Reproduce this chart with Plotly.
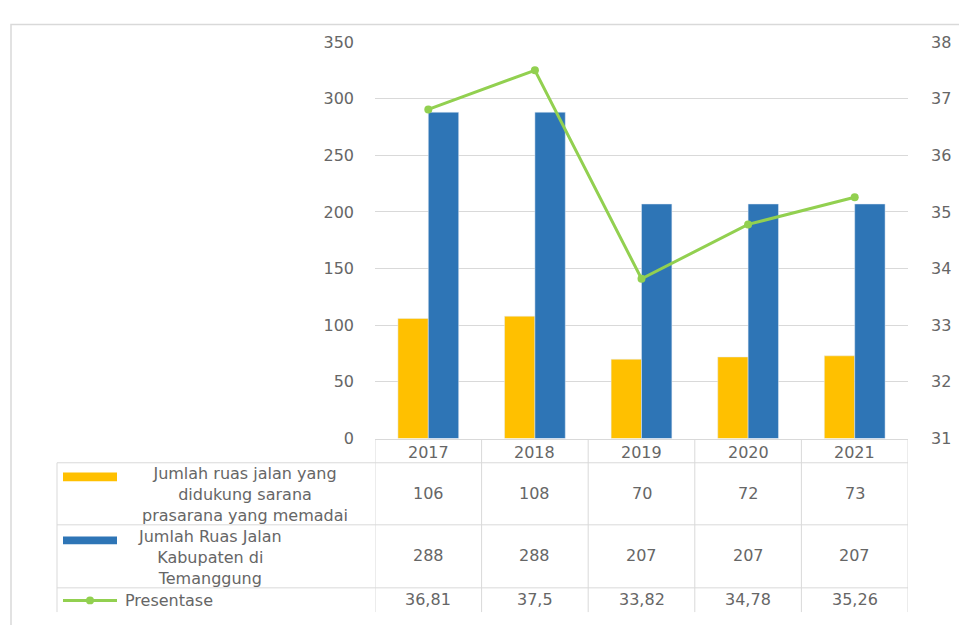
import plotly.graph_objects as go

# ---------------- data ----------------
years = ["2017", "2018", "2019", "2020", "2021"]
ruas_didukung = [106, 108, 70, 72, 73]
ruas_kabupaten = [288, 288, 207, 207, 207]
presentase = [36.81, 37.5, 33.82, 34.78, 35.26]
series_names = [
    "Jumlah ruas jalan yang<br>didukung sarana<br>prasarana yang memadai",
    "Jumlah Ruas Jalan<br>Kabupaten di<br>Temanggung",
    "Presentase",
]
left_ticks = [0, 50, 100, 150, 200, 250, 300, 350]
right_ticks = [31, 32, 33, 34, 35, 36, 37, 38]

# ---------------- style ----------------
W, H = 959, 625
YELLOW = "#FFC000"
BLUE = "#2E75B6"
GREEN = "#92D050"
GRID = "#D9D9D9"
TXT = "#666666"
FONT = "DejaVu Sans"
FS = 16


def px(x):
    return x / W


def py(y):
    return 1 - y / H


def fmt(v):
    s = f"{v:.2f}".rstrip("0").rstrip(".")
    return s.replace(".", ",")


x_left, x_right = 375, 908
y_top, y_bottom = 34, 443

fig = go.Figure()
fig.add_trace(go.Bar(x=years, y=ruas_didukung, marker_color=YELLOW,
                     name="didukung", showlegend=False))
fig.add_trace(go.Bar(x=years, y=ruas_kabupaten, marker_color=BLUE,
                     name="kabupaten", showlegend=False))
fig.add_trace(go.Scatter(x=years, y=presentase, yaxis="y2", mode="lines+markers",
                         line=dict(color=GREEN, width=3),
                         marker=dict(color=GREEN, size=8),
                         name="Presentase", showlegend=False))

shapes = []
annotations = []

# chart frame
shapes.append(dict(type="rect", xref="paper", yref="paper",
                   x0=px(11), x1=px(975), y0=py(16), y1=py(640),
                   line=dict(color=GRID, width=1.5), layer="below"))

# table rows (pixel boundaries)
row_lines = [468, 532, 597]
table_bottom = 622
table_left = 57
for yy in row_lines:
    shapes.append(dict(type="line", xref="paper", yref="paper",
                       x0=px(table_left), x1=px(x_right), y0=py(yy), y1=py(yy),
                       line=dict(color=GRID, width=1)))
shapes.append(dict(type="line", xref="paper", yref="paper",
                   x0=px(table_left), x1=px(table_left), y0=py(row_lines[0]), y1=py(table_bottom),
                   line=dict(color=GRID, width=1)))
# vertical column lines at category boundaries
for i in range(len(years) + 1):
    shapes.append(dict(type="line", xref="x", yref="paper",
                       x0=i - 0.5, x1=i - 0.5, y0=py(444), y1=py(table_bottom),
                       line=dict(color=GRID, width=1)))

# table values (x given as category index)
row_centers = [500, 564, 609]
row_values = [
    [str(v) for v in ruas_didukung],
    [str(v) for v in ruas_kabupaten],
    [fmt(v) for v in presentase],
]
for rc, vals in zip(row_centers, row_values):
    for i, v in enumerate(vals):
        annotations.append(dict(x=i, xref="x", y=py(rc), yref="paper",
                                text=v, showarrow=False,
                                font=dict(family=FONT, size=FS, color=TXT),
                                xanchor="center", yanchor="middle"))
# year header
for i, yr in enumerate(years):
    annotations.append(dict(x=i, xref="x", y=py(457), yref="paper",
                            text=yr, showarrow=False,
                            font=dict(family=FONT, size=FS, color=TXT),
                            xanchor="center", yanchor="middle"))

# legend keys inside table
shapes.append(dict(type="rect", xref="paper", yref="paper",
                   x0=px(63), x1=px(117), y0=py(478), y1=py(487),
                   fillcolor=YELLOW, line=dict(width=0)))
shapes.append(dict(type="rect", xref="paper", yref="paper",
                   x0=px(63), x1=px(117), y0=py(544), y1=py(552),
                   fillcolor=BLUE, line=dict(width=0)))
shapes.append(dict(type="line", xref="paper", yref="paper",
                   x0=px(63), x1=px(117), y0=py(610), y1=py(610),
                   line=dict(color=GREEN, width=3)))
shapes.append(dict(type="circle", xref="paper", yref="paper",
                   x0=px(86), x1=px(94), y0=py(606), y1=py(614),
                   fillcolor=GREEN, line=dict(width=0)))

annotations.append(dict(x=px(245), y=py(501), xref="paper", yref="paper",
                        text=series_names[0], showarrow=False, align="center",
                        font=dict(family=FONT, size=FS, color=TXT),
                        xanchor="center", yanchor="middle"))
annotations.append(dict(x=px(210), y=py(566), xref="paper", yref="paper",
                        text=series_names[1], showarrow=False, align="center",
                        font=dict(family=FONT, size=FS, color=TXT),
                        xanchor="center", yanchor="middle"))
annotations.append(dict(x=px(123), y=py(610), xref="paper", yref="paper",
                        text=series_names[2], showarrow=False, align="left",
                        font=dict(family=FONT, size=FS, color=TXT),
                        xanchor="left", yanchor="middle"))

fig.update_layout(
    width=W, height=H,
    margin=dict(l=0, r=0, t=0, b=0),
    paper_bgcolor="white", plot_bgcolor="white",
    barmode="group", bargap=0.43, bargroupgap=0,
    showlegend=False,
    xaxis=dict(type="category", domain=[px(x_left), px(x_right)], range=[-0.5, 4.5],
               showticklabels=False, showgrid=False, zeroline=False,
               showline=True, linecolor=GRID, linewidth=1, anchor="y"),
    yaxis=dict(domain=[py(y_bottom), py(y_top)], range=[0, 350],
               tickvals=left_ticks, showgrid=True, gridcolor=GRID, gridwidth=1,
               zeroline=False, showline=False,
               tickfont=dict(family=FONT, size=FS, color=TXT),
               ticklabelstandoff=20),
    yaxis2=dict(domain=[py(y_bottom), py(y_top)], range=[31, 38],
                tickvals=right_ticks, overlaying="y", side="right",
                showgrid=False, zeroline=False, showline=False,
                tickfont=dict(family=FONT, size=FS, color=TXT),
                ticklabelstandoff=22),
    shapes=shapes,
    annotations=annotations,
)

fig.write_html("out.html", config={"displayModeBar": False},
               post_script="document.body.style.margin='0';document.body.style.overflow='hidden';")
